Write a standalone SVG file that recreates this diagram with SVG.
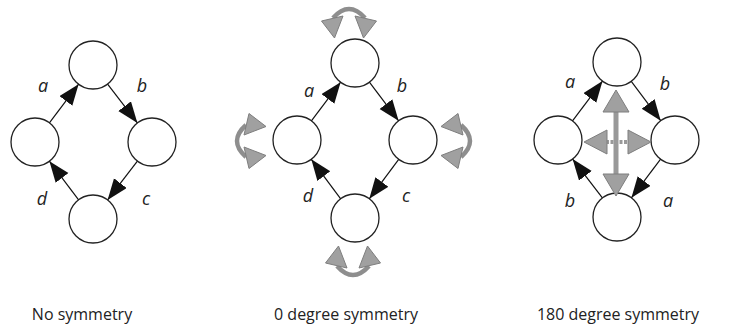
<svg xmlns="http://www.w3.org/2000/svg" width="750" height="330" viewBox="0 0 750 330">
<style>
.node{fill:#fff;stroke:#222;stroke-width:1.3}
.edge{stroke:#111;stroke-width:1.2;fill:none;marker-end:url(#ah)}
.lbl{font-family:"Open Sans","Liberation Sans",sans-serif;font-style:italic;font-size:18px;fill:#222;text-anchor:middle}
.cap{font-family:"Open Sans","Liberation Sans",sans-serif;font-size:16px;fill:#222;text-anchor:middle}
.gray{fill:#a0a0a0;stroke:#7e7e7e;stroke-width:1}
.garc{fill:none;stroke:#8e8e8e;stroke-width:4.5}
.gshaft{stroke:#999;stroke-width:5}
.gshaft2{stroke:#999;stroke-width:4;stroke-dasharray:3 1.5}
</style>
<defs>
<marker id="ah" markerUnits="userSpaceOnUse" markerWidth="24" markerHeight="18" refX="21" refY="8" orient="auto">
<path d="M0,0 L21,8 L0,16 z" fill="#111"/>
</marker>
<g id="rot">
<path class="garc" d="M-16,-20 Q0,-38 16,-20"/>
<path class="gray" d="M-27.5,-17 L-6,-22 L-14.5,0 z"/>
<path class="gray" d="M27.5,-17 L6,-22 L14.5,0 z"/>
</g>
</defs>
<rect width="750" height="330" fill="#fff"/>

<!-- Diagram 1: No symmetry -->
<g id="d1-top"><circle class="node" cx="93" cy="65" r="24"/></g>
<g id="d1-left"><circle class="node" cx="35" cy="142" r="24"/></g>
<g id="d1-right"><circle class="node" cx="152" cy="142" r="24"/></g>
<g id="d1-bottom"><circle class="node" cx="93" cy="219" r="24"/></g>

<!-- Diagram 2: 0 degree symmetry -->
<g id="d2-top"><circle class="node" cx="355" cy="63" r="24"/></g>
<g id="d2-left"><circle class="node" cx="297" cy="140" r="24"/></g>
<g id="d2-right"><circle class="node" cx="413" cy="140" r="24"/></g>
<g id="d2-bottom"><circle class="node" cx="355" cy="218" r="24"/></g>

<!-- Diagram 3: 180 degree symmetry -->
<g id="d3-top"><circle class="node" cx="617" cy="62" r="24"/></g>
<g id="d3-left"><circle class="node" cx="558" cy="140" r="24"/></g>
<g id="d3-right"><circle class="node" cx="675" cy="140" r="24"/></g>
<g id="d3-bottom"><circle class="node" cx="617" cy="217" r="24"/></g>

<g id="connectors">
<line class="edge" x1="49.4" y1="122.8" x2="78.6" y2="84.2"/>
<line class="edge" x1="107.6" y1="84.1" x2="137.4" y2="122.9"/>
<line class="edge" x1="137.4" y1="161.1" x2="107.6" y2="199.9"/>
<line class="edge" x1="78.6" y1="199.8" x2="49.4" y2="161.2"/>

<line class="edge" x1="311.4" y1="120.8" x2="340.6" y2="82.2"/>
<line class="edge" x1="369.4" y1="82.2" x2="398.6" y2="120.8"/>
<line class="edge" x1="398.7" y1="159.3" x2="369.3" y2="198.8"/>
<line class="edge" x1="340.7" y1="198.8" x2="311.3" y2="159.3"/>

<line class="edge" x1="572.5" y1="120.9" x2="602.5" y2="81.1"/>
<line class="edge" x1="631.3" y1="81.3" x2="660.7" y2="120.7"/>
<line class="edge" x1="660.6" y1="159.2" x2="631.4" y2="197.8"/>
<line class="edge" x1="602.4" y1="197.9" x2="572.6" y2="159.1"/>
</g>

<g id="rotation-symbols">
<use href="#rot" transform="translate(349,38)"/>
<use href="#rot" transform="translate(266,141) rotate(-90)"/>
<use href="#rot" transform="translate(441,141) rotate(90)"/>
<use href="#rot" transform="translate(353,246) rotate(180)"/>
</g>

<g id="symmetry-arrows">
<line class="gshaft" x1="616" y1="110" x2="616" y2="175"/>
<line class="gshaft2" x1="606" y1="142" x2="629" y2="142"/>
<path class="gray" d="M616,90 L629,112 L603,112 z"/>
<path class="gray" d="M616,196 L629,174 L603,174 z"/>
<path class="gray" d="M584,142 L607,130 L607,154 z"/>
<path class="gray" d="M651,142 L628,130 L628,154 z"/>
</g>

<g id="labels">
<text class="lbl" x="43" y="92">a</text>
<text class="lbl" x="142" y="92">b</text>
<text class="lbl" x="146" y="205">c</text>
<text class="lbl" x="42" y="205">d</text>

<text class="lbl" x="309" y="97">a</text>
<text class="lbl" x="402" y="92">b</text>
<text class="lbl" x="406" y="202">c</text>
<text class="lbl" x="308" y="202">d</text>

<text class="lbl" x="570" y="88">a</text>
<text class="lbl" x="665" y="90">b</text>
<text class="lbl" x="668" y="207">a</text>
<text class="lbl" x="570" y="207">b</text>

<text class="cap" x="82" y="320">No symmetry</text>
<text class="cap" x="346" y="320">0 degree symmetry</text>
<text class="cap" x="618" y="320">180 degree symmetry</text>
</g>
</svg>
